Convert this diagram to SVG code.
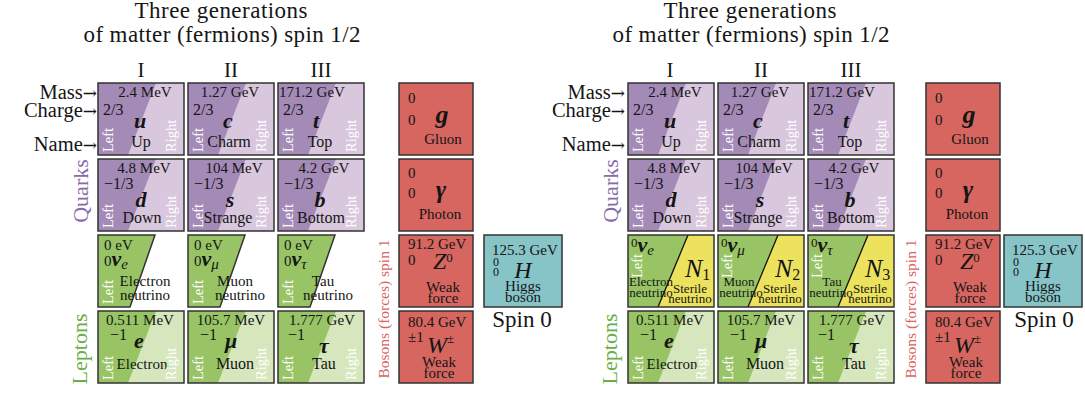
<svg xmlns="http://www.w3.org/2000/svg" width="1085" height="396" viewBox="0 0 1085 396">
<style>
text{font-family:"Liberation Serif","Times New Roman",serif;fill:#151515}
.s{font-size:16px}.mv{font-size:15px}.sm{font-size:15px}.xs{font-size:13px}.z{font-size:12px}
.mid{text-anchor:middle}.end{text-anchor:end}
.sym{font-style:italic;font-weight:bold;font-size:22px}
.bsym{font-style:italic;font-size:24px}
.lr{fill:#fff;font-size:14.5px}
.bd{fill:none;stroke:#333;stroke-width:1.5}
.qd{fill:#a48bb7}.ql{fill:#d9c7dd}
.ld{fill:#98c466}.ll{fill:#d6e6bd}
.bo{fill:#d6665f}.hg{fill:#86c4c8}.st{fill:#ece25d}
.title{font-size:23px}.gen{font-size:21px}.lab{font-size:20.5px}
.ar{font-family:"DejaVu Serif",serif;font-size:17px}
.qk{fill:#8a6aab;font-size:22px}.lp{fill:#6aaf45;font-size:22px}
.bl{fill:#d9645f;font-size:15.5px}
.sp{font-size:23px}
.dv{stroke:#111;stroke-width:1.3}
</style>

<!-- ===================== LEFT PANEL ===================== -->
<g id="left-labels">
 <text class="title mid" x="221" y="18" textLength="173">Three generations</text>
 <text class="title mid" x="222" y="42" textLength="277">of matter (fermions) spin 1/2</text>
 <text class="gen mid" x="141" y="77">I</text>
 <text class="gen mid" x="231" y="77">II</text>
 <text class="gen mid" x="321" y="77">III</text>
 <text class="lab end" x="97" y="99">Mass<tspan class="ar">→</tspan></text>
 <text class="lab end" x="97" y="117">Charge<tspan class="ar">→</tspan></text>
 <text class="lab end" x="97" y="151">Name<tspan class="ar">→</tspan></text>
 <text class="qk mid" transform="translate(88,191) rotate(-90)">Quarks</text>
 <text class="lp mid" transform="translate(87,349) rotate(-90)">Leptons</text>
 <text class="bl mid" transform="translate(389,309) rotate(-90)">Bosons (forces) spin 1</text>
 <text class="sp mid" x="522" y="327">Spin 0</text>
</g>

<g id="L-u" transform="translate(98,83)">
 <rect class="ql" width="86" height="72"/><polygon class="qd" points="0,0 58,0 30,72 0,72"/><rect class="bd" width="86" height="72"/>
 <text class="mv mid" x="47" y="14">2.4 MeV</text><text class="s" x="5" y="32">2/3</text>
 <text class="sym mid" x="42" y="45">u</text><text class="s mid" x="43" y="64">Up</text>
 <text class="lr" transform="translate(15,69) rotate(-90)">Left</text><text class="lr" transform="translate(78,69) rotate(-90)">Right</text>
</g>
<g id="L-c" transform="translate(188,83)">
 <rect class="ql" width="86" height="72"/><polygon class="qd" points="0,0 58,0 30,72 0,72"/><rect class="bd" width="86" height="72"/>
 <text class="mv mid" x="42" y="14">1.27 GeV</text><text class="s" x="5" y="32">2/3</text>
 <text class="sym mid" x="40" y="45">c</text><text class="s mid" x="41" y="64">Charm</text>
 <text class="lr" transform="translate(15,69) rotate(-90)">Left</text><text class="lr" transform="translate(78,69) rotate(-90)">Right</text>
</g>
<g id="L-t" transform="translate(278,83)">
 <rect class="ql" width="86" height="72"/><polygon class="qd" points="0,0 58,0 30,72 0,72"/><rect class="bd" width="86" height="72"/>
 <text class="mv mid" x="34" y="14">171.2 GeV</text><text class="s" x="5" y="32">2/3</text>
 <text class="sym mid" x="38" y="45">t</text><text class="s mid" x="42" y="64">Top</text>
 <text class="lr" transform="translate(15,69) rotate(-90)">Left</text><text class="lr" transform="translate(78,69) rotate(-90)">Right</text>
</g>
<g id="L-d" transform="translate(98,159)">
 <rect class="ql" width="86" height="72"/><polygon class="qd" points="0,0 58,0 30,72 0,72"/><rect class="bd" width="86" height="72"/>
 <text class="mv mid" x="46" y="14">4.8 MeV</text><text class="s" x="6" y="30">−1/3</text>
 <text class="sym mid" x="43" y="48">d</text><text class="s mid" x="44" y="64">Down</text>
 <text class="lr" transform="translate(15,69) rotate(-90)">Left</text><text class="lr" transform="translate(78,69) rotate(-90)">Right</text>
</g>
<g id="L-s" transform="translate(188,159)">
 <rect class="ql" width="86" height="72"/><polygon class="qd" points="0,0 58,0 30,72 0,72"/><rect class="bd" width="86" height="72"/>
 <text class="mv mid" x="46" y="14">104 MeV</text><text class="s" x="6" y="30">−1/3</text>
 <text class="sym mid" x="42" y="48">s</text><text class="s mid" x="40" y="64">Strange</text>
 <text class="lr" transform="translate(15,69) rotate(-90)">Left</text><text class="lr" transform="translate(78,69) rotate(-90)">Right</text>
</g>
<g id="L-b" transform="translate(278,159)">
 <rect class="ql" width="86" height="72"/><polygon class="qd" points="0,0 58,0 30,72 0,72"/><rect class="bd" width="86" height="72"/>
 <text class="mv mid" x="46" y="14">4.2 GeV</text><text class="s" x="6" y="30">−1/3</text>
 <text class="sym mid" x="42" y="48">b</text><text class="s mid" x="43" y="64">Bottom</text>
 <text class="lr" transform="translate(15,69) rotate(-90)">Left</text><text class="lr" transform="translate(78,69) rotate(-90)">Right</text>
</g>
<g id="L-nue" transform="translate(98,235)">
 <polygon class="bd" style="fill:#98c466" points="0,0 57,0 32,72 0,72"/>
 <text class="sm" x="6" y="15">0 eV</text>
 <text x="6" y="31"><tspan class="sm">0</tspan><tspan class="sym">ν</tspan><tspan class="sym" style="font-size:15px;font-weight:normal" dy="3">e</tspan></text>
 <text class="sm mid" x="47" y="51">Electron</text><text class="sm mid" x="47" y="65">neutrino</text>
 <text class="lr" transform="translate(15,69) rotate(-90)">Left</text>
</g>
<g id="L-num" transform="translate(188,235)">
 <polygon class="bd" style="fill:#98c466" points="0,0 57,0 32,72 0,72"/>
 <text class="sm" x="6" y="15">0 eV</text>
 <text x="6" y="31"><tspan class="sm">0</tspan><tspan class="sym">ν</tspan><tspan class="sym" style="font-size:15px;font-weight:normal" dy="3">μ</tspan></text>
 <text class="sm mid" x="47" y="51">Muon</text><text class="sm mid" x="52" y="65">neutrino</text>
 <text class="lr" transform="translate(15,69) rotate(-90)">Left</text>
</g>
<g id="L-nut" transform="translate(278,235)">
 <polygon class="bd" style="fill:#98c466" points="0,0 57,0 32,72 0,72"/>
 <text class="sm" x="6" y="15">0 eV</text>
 <text x="6" y="31"><tspan class="sm">0</tspan><tspan class="sym">ν</tspan><tspan class="sym" style="font-size:15px;font-weight:normal" dy="3">τ</tspan></text>
 <text class="sm mid" x="45" y="51">Tau</text><text class="sm mid" x="50" y="65">neutrino</text>
 <text class="lr" transform="translate(15,69) rotate(-90)">Left</text>
</g>
<g id="L-e" transform="translate(98,311)">
 <rect class="ll" width="86" height="72"/><polygon class="ld" points="0,0 58,0 30,72 0,72"/><rect class="bd" width="86" height="72"/>
 <text class="mv mid" x="42" y="14">0.511 MeV</text><text class="s" x="12" y="29">−1</text>
 <text class="sym mid" x="41" y="37">e</text><text class="sm mid" x="44" y="58">Electron</text>
 <text class="lr" transform="translate(15,69) rotate(-90)">Left</text><text class="lr" transform="translate(78,69) rotate(-90)">Right</text>
</g>
<g id="L-mu" transform="translate(188,311)">
 <rect class="ll" width="86" height="72"/><polygon class="ld" points="0,0 58,0 30,72 0,72"/><rect class="bd" width="86" height="72"/>
 <text class="mv mid" x="43" y="14">105.7 MeV</text><text class="s" x="12" y="29">−1</text>
 <text class="sym mid" x="43" y="37">μ</text><text class="s mid" x="47" y="58">Muon</text>
 <text class="lr" transform="translate(15,69) rotate(-90)">Left</text><text class="lr" transform="translate(78,69) rotate(-90)">Right</text>
</g>
<g id="L-tau" transform="translate(278,311)">
 <rect class="ll" width="86" height="72"/><polygon class="ld" points="0,0 58,0 30,72 0,72"/><rect class="bd" width="86" height="72"/>
 <text class="mv mid" x="44" y="14">1.777 GeV</text><text class="s" x="10" y="29">−1</text>
 <text class="sym mid" x="46" y="42">τ</text><text class="s mid" x="46" y="58">Tau</text>
 <text class="lr" transform="translate(15,69) rotate(-90)">Left</text><text class="lr" transform="translate(78,69) rotate(-90)">Right</text>
</g>
<g id="L-g" transform="translate(399,83)">
 <rect class="bo" width="74" height="72"/><rect class="bd" width="74" height="72"/>
 <text class="sm" x="9" y="20">0</text><text class="sm" x="9" y="42">0</text>
 <text class="sym mid" style="font-size:26px" x="43" y="40">g</text><text class="sm mid" x="44" y="61">Gluon</text>
</g>
<g id="L-gamma" transform="translate(399,159)">
 <rect class="bo" width="74" height="72"/><rect class="bd" width="74" height="72"/>
 <text class="sm" x="9" y="19">0</text><text class="sm" x="9" y="39">0</text>
 <text class="sym mid" style="font-size:25px" x="42" y="39">γ</text><text class="sm mid" x="41" y="60">Photon</text>
</g>
<g id="L-Z" transform="translate(399,235)">
 <rect class="bo" width="74" height="72"/><rect class="bd" width="74" height="72"/>
 <text class="sm" x="9" y="14">91.2 GeV</text><text class="sm" x="9" y="30">0</text>
 <text x="34" y="34"><tspan class="bsym">Z</tspan><tspan class="xs" dy="-7">0</tspan></text>
 <text class="sm mid" x="44" y="57">Weak</text><text class="sm mid" x="44" y="68">force</text>
</g>
<g id="L-W" transform="translate(399,311)">
 <rect class="bo" width="74" height="72"/><rect class="bd" width="74" height="72"/>
 <text class="sm" x="9" y="16">80.4 GeV</text><text class="sm" x="9" y="31">±1</text>
 <text x="28" y="42"><tspan class="bsym">W</tspan><tspan class="xs" dy="-10">±</tspan></text>
 <text class="sm mid" x="40" y="56">Weak</text><text class="sm mid" x="40" y="67">force</text>
</g>
<g id="L-H" transform="translate(484,235)">
 <rect class="hg" width="78" height="72"/><rect class="bd" width="78" height="72"/>
 <text class="sm" x="8" y="20">125.3 GeV</text><text class="z" x="9" y="31">0</text><text class="z" x="9" y="41">0</text>
 <text class="bsym mid" x="39" y="43">H</text>
 <text class="sm mid" x="39" y="56">Higgs</text><text class="sm mid" x="39" y="67">boson</text>
</g>

<!-- ===================== RIGHT PANEL ===================== -->
<g id="right-labels">
 <text class="title mid" x="750" y="18" textLength="173">Three generations</text>
 <text class="title mid" x="751" y="42" textLength="277">of matter (fermions) spin 1/2</text>
 <text class="gen mid" x="670" y="77">I</text>
 <text class="gen mid" x="761" y="77">II</text>
 <text class="gen mid" x="851" y="77">III</text>
 <text class="lab end" x="625" y="99">Mass<tspan class="ar">→</tspan></text>
 <text class="lab end" x="625" y="117">Charge<tspan class="ar">→</tspan></text>
 <text class="lab end" x="625" y="151">Name<tspan class="ar">→</tspan></text>
 <text class="qk mid" transform="translate(618,191) rotate(-90)">Quarks</text>
 <text class="lp mid" transform="translate(617,349) rotate(-90)">Leptons</text>
 <text class="bl mid" transform="translate(916,309) rotate(-90)">Bosons (forces) spin 1</text>
 <text class="sp mid" x="1044" y="327">Spin 0</text>
</g>

<g id="R-u" transform="translate(628,83)">
 <rect class="ql" width="86" height="72"/><polygon class="qd" points="0,0 58,0 30,72 0,72"/><rect class="bd" width="86" height="72"/>
 <text class="mv mid" x="47" y="14">2.4 MeV</text><text class="s" x="5" y="32">2/3</text>
 <text class="sym mid" x="42" y="45">u</text><text class="s mid" x="43" y="64">Up</text>
 <text class="lr" transform="translate(15,69) rotate(-90)">Left</text><text class="lr" transform="translate(78,69) rotate(-90)">Right</text>
</g>
<g id="R-c" transform="translate(718,83)">
 <rect class="ql" width="86" height="72"/><polygon class="qd" points="0,0 58,0 30,72 0,72"/><rect class="bd" width="86" height="72"/>
 <text class="mv mid" x="42" y="14">1.27 GeV</text><text class="s" x="5" y="32">2/3</text>
 <text class="sym mid" x="40" y="45">c</text><text class="s mid" x="41" y="64">Charm</text>
 <text class="lr" transform="translate(15,69) rotate(-90)">Left</text><text class="lr" transform="translate(78,69) rotate(-90)">Right</text>
</g>
<g id="R-t" transform="translate(808,83)">
 <rect class="ql" width="86" height="72"/><polygon class="qd" points="0,0 58,0 30,72 0,72"/><rect class="bd" width="86" height="72"/>
 <text class="mv mid" x="34" y="14">171.2 GeV</text><text class="s" x="5" y="32">2/3</text>
 <text class="sym mid" x="38" y="45">t</text><text class="s mid" x="42" y="64">Top</text>
 <text class="lr" transform="translate(15,69) rotate(-90)">Left</text><text class="lr" transform="translate(78,69) rotate(-90)">Right</text>
</g>
<g id="R-d" transform="translate(628,159)">
 <rect class="ql" width="86" height="72"/><polygon class="qd" points="0,0 58,0 30,72 0,72"/><rect class="bd" width="86" height="72"/>
 <text class="mv mid" x="46" y="14">4.8 MeV</text><text class="s" x="6" y="30">−1/3</text>
 <text class="sym mid" x="43" y="48">d</text><text class="s mid" x="44" y="64">Down</text>
 <text class="lr" transform="translate(15,69) rotate(-90)">Left</text><text class="lr" transform="translate(78,69) rotate(-90)">Right</text>
</g>
<g id="R-s" transform="translate(718,159)">
 <rect class="ql" width="86" height="72"/><polygon class="qd" points="0,0 58,0 30,72 0,72"/><rect class="bd" width="86" height="72"/>
 <text class="mv mid" x="46" y="14">104 MeV</text><text class="s" x="6" y="30">−1/3</text>
 <text class="sym mid" x="42" y="48">s</text><text class="s mid" x="40" y="64">Strange</text>
 <text class="lr" transform="translate(15,69) rotate(-90)">Left</text><text class="lr" transform="translate(78,69) rotate(-90)">Right</text>
</g>
<g id="R-b" transform="translate(808,159)">
 <rect class="ql" width="86" height="72"/><polygon class="qd" points="0,0 58,0 30,72 0,72"/><rect class="bd" width="86" height="72"/>
 <text class="mv mid" x="46" y="14">4.2 GeV</text><text class="s" x="6" y="30">−1/3</text>
 <text class="sym mid" x="42" y="48">b</text><text class="s mid" x="43" y="64">Bottom</text>
 <text class="lr" transform="translate(15,69) rotate(-90)">Left</text><text class="lr" transform="translate(78,69) rotate(-90)">Right</text>
</g>
<g id="R-nue" transform="translate(628,235)">
 <rect class="st" width="86" height="72"/><polygon class="ld" points="0,0 60,0 30,72 0,72"/>
 <line class="dv" x1="60" y1="0" x2="30" y2="72"/><rect class="bd" width="86" height="72"/>
 <text x="3" y="17"><tspan class="xs" dy="-5">0</tspan><tspan class="sym" dy="5">ν</tspan><tspan class="sym" style="font-size:15px;font-weight:normal" dy="3">e</tspan></text>
 <text class="lr" transform="translate(14,43) rotate(-90)">Left</text>
 <text x="57" y="42"><tspan class="bsym" style="font-size:26px">N</tspan><tspan class="s" dy="3">1</tspan></text>
 <text class="xs mid" x="23" y="51">Electron</text><text class="xs mid" x="23" y="62">neutrino</text>
 <text class="xs mid" x="62" y="58">Sterile</text><text class="xs mid" x="62" y="68">neutrino</text>
</g>
<g id="R-num" transform="translate(718,235)">
 <rect class="st" width="86" height="72"/><polygon class="ld" points="0,0 60,0 30,72 0,72"/>
 <line class="dv" x1="60" y1="0" x2="30" y2="72"/><rect class="bd" width="86" height="72"/>
 <text x="3" y="17"><tspan class="xs" dy="-5">0</tspan><tspan class="sym" dy="5">ν</tspan><tspan class="sym" style="font-size:15px;font-weight:normal" dy="3">μ</tspan></text>
 <text class="lr" transform="translate(14,43) rotate(-90)">Left</text>
 <text x="57" y="42"><tspan class="bsym" style="font-size:26px">N</tspan><tspan class="s" dy="3">2</tspan></text>
 <text class="xs mid" x="21" y="51">Muon</text><text class="xs mid" x="23" y="62">neutrino</text>
 <text class="xs mid" x="62" y="58">Sterile</text><text class="xs mid" x="62" y="68">neutrino</text>
</g>
<g id="R-nut" transform="translate(808,235)">
 <rect class="st" width="86" height="72"/><polygon class="ld" points="0,0 60,0 30,72 0,72"/>
 <line class="dv" x1="60" y1="0" x2="30" y2="72"/><rect class="bd" width="86" height="72"/>
 <text x="3" y="17"><tspan class="xs" dy="-5">0</tspan><tspan class="sym" dy="5">ν</tspan><tspan class="sym" style="font-size:15px;font-weight:normal" dy="3">τ</tspan></text>
 <text class="lr" transform="translate(14,43) rotate(-90)">Left</text>
 <text x="57" y="42"><tspan class="bsym" style="font-size:26px">N</tspan><tspan class="s" dy="3">3</tspan></text>
 <text class="xs mid" x="24" y="51">Tau</text><text class="xs mid" x="23" y="62">neutrino</text>
 <text class="xs mid" x="62" y="58">Sterile</text><text class="xs mid" x="62" y="68">neutrino</text>
</g>
<g id="R-e" transform="translate(628,311)">
 <rect class="ll" width="86" height="72"/><polygon class="ld" points="0,0 58,0 30,72 0,72"/><rect class="bd" width="86" height="72"/>
 <text class="mv mid" x="42" y="14">0.511 MeV</text><text class="s" x="12" y="29">−1</text>
 <text class="sym mid" x="41" y="37">e</text><text class="sm mid" x="44" y="58">Electron</text>
 <text class="lr" transform="translate(15,69) rotate(-90)">Left</text><text class="lr" transform="translate(78,69) rotate(-90)">Right</text>
</g>
<g id="R-mu" transform="translate(718,311)">
 <rect class="ll" width="86" height="72"/><polygon class="ld" points="0,0 58,0 30,72 0,72"/><rect class="bd" width="86" height="72"/>
 <text class="mv mid" x="43" y="14">105.7 MeV</text><text class="s" x="12" y="29">−1</text>
 <text class="sym mid" x="43" y="37">μ</text><text class="s mid" x="47" y="58">Muon</text>
 <text class="lr" transform="translate(15,69) rotate(-90)">Left</text><text class="lr" transform="translate(78,69) rotate(-90)">Right</text>
</g>
<g id="R-tau" transform="translate(808,311)">
 <rect class="ll" width="86" height="72"/><polygon class="ld" points="0,0 58,0 30,72 0,72"/><rect class="bd" width="86" height="72"/>
 <text class="mv mid" x="44" y="14">1.777 GeV</text><text class="s" x="10" y="29">−1</text>
 <text class="sym mid" x="46" y="42">τ</text><text class="s mid" x="46" y="58">Tau</text>
 <text class="lr" transform="translate(15,69) rotate(-90)">Left</text><text class="lr" transform="translate(78,69) rotate(-90)">Right</text>
</g>
<g id="R-g" transform="translate(926,83)">
 <rect class="bo" width="74" height="72"/><rect class="bd" width="74" height="72"/>
 <text class="sm" x="9" y="20">0</text><text class="sm" x="9" y="42">0</text>
 <text class="sym mid" style="font-size:26px" x="43" y="40">g</text><text class="sm mid" x="44" y="61">Gluon</text>
</g>
<g id="R-gamma" transform="translate(926,159)">
 <rect class="bo" width="74" height="72"/><rect class="bd" width="74" height="72"/>
 <text class="sm" x="9" y="19">0</text><text class="sm" x="9" y="39">0</text>
 <text class="sym mid" style="font-size:25px" x="42" y="39">γ</text><text class="sm mid" x="41" y="60">Photon</text>
</g>
<g id="R-Z" transform="translate(926,235)">
 <rect class="bo" width="74" height="72"/><rect class="bd" width="74" height="72"/>
 <text class="sm" x="9" y="14">91.2 GeV</text><text class="sm" x="9" y="30">0</text>
 <text x="34" y="34"><tspan class="bsym">Z</tspan><tspan class="xs" dy="-7">0</tspan></text>
 <text class="sm mid" x="44" y="57">Weak</text><text class="sm mid" x="44" y="68">force</text>
</g>
<g id="R-W" transform="translate(926,311)">
 <rect class="bo" width="74" height="72"/><rect class="bd" width="74" height="72"/>
 <text class="sm" x="9" y="16">80.4 GeV</text><text class="sm" x="9" y="31">±1</text>
 <text x="28" y="42"><tspan class="bsym">W</tspan><tspan class="xs" dy="-10">±</tspan></text>
 <text class="sm mid" x="40" y="56">Weak</text><text class="sm mid" x="40" y="67">force</text>
</g>
<g id="R-H" transform="translate(1004,235)">
 <rect class="hg" width="78" height="72"/><rect class="bd" width="78" height="72"/>
 <text class="sm" x="8" y="20">125.3 GeV</text><text class="z" x="9" y="31">0</text><text class="z" x="9" y="41">0</text>
 <text class="bsym mid" x="39" y="43">H</text>
 <text class="sm mid" x="39" y="56">Higgs</text><text class="sm mid" x="39" y="67">boson</text>
</g>
<g id="connectors"/>
</svg>
